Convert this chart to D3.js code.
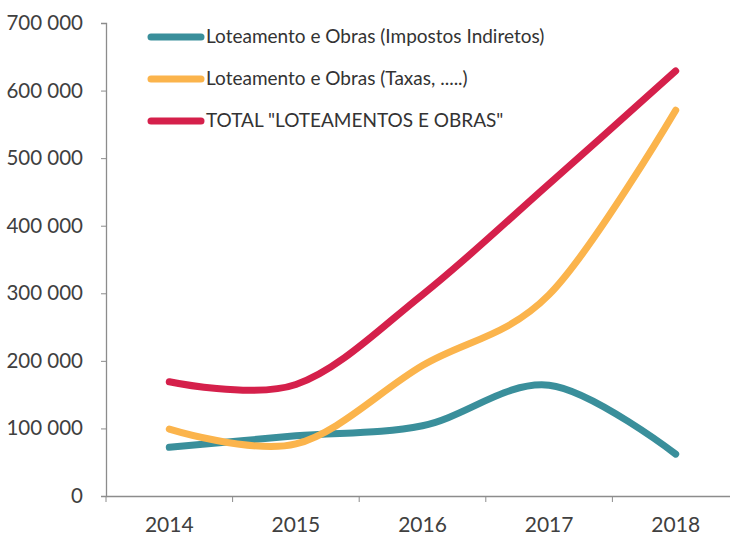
<!DOCTYPE html>
<html><head><meta charset="utf-8">
<script src="https://cdn.jsdelivr.net/npm/d3@7"></script>
<style>body{margin:0;background:#fff}svg{display:block}</style>
</head><body>
<svg id="c" width="730" height="538"></svg>
<script>
const years = ["2014","2015","2016","2017","2018"];
const seriesNames = ["Loteamento e Obras (Impostos Indiretos)","Loteamento e Obras (Taxas, .....)","TOTAL \"LOTEAMENTOS E OBRAS\""];
const impostos = [72000, 89000, 104000, 164000, 62000];
const taxas = [99000, 77000, 193000, 298000, 571000];
const total = [169000, 165000, 298000, 462000, 629000];
const yTicks = [0,100000,200000,300000,400000,500000,600000,700000];
const colors = ["#3a8f9b","#fbb44c","#d5204b"];

(function(){
const svg = d3.select("#c");
const font = "Lato, 'Open Sans', sans-serif";
const mLeft = 106, mBottom = 496, mTop = 23, band = 126.6;
const x = d3.scaleBand().domain(years).range([mLeft, mLeft + band*years.length]);
const y = d3.scaleLinear().domain([0,700000]).range([mBottom, mTop]);

// y axis
const ya = svg.append("g").attr("transform",`translate(${mLeft},0)`)
  .call(d3.axisLeft(y).tickValues(yTicks).tickSize(5).tickPadding(18)
    .tickFormat(d => d3.format(",")(d).replace(/,/g," ")));
ya.select(".domain").attr("stroke","#8c8c8c").attr("stroke-width",1.3);
ya.selectAll(".tick line").attr("stroke","#8c8c8c");
ya.selectAll("text").attr("font-family",font).attr("font-size",20.5).attr("fill","#404040");

// x axis
const xa = svg.append("g").attr("transform",`translate(0,${mBottom})`)
  .call(d3.axisBottom(x).tickSize(0).tickPadding(22));
xa.select(".domain").attr("stroke","#8c8c8c").attr("stroke-width",1.3);
xa.selectAll("text").attr("font-family",font).attr("font-size",21).attr("fill","#404040")
  .attr("dy",null).attr("y",36);
xa.selectAll(".bnd").data(years).enter().append("line")
  .attr("x1",d=>x(d)+band).attr("x2",d=>x(d)+band).attr("y1",0).attr("y2",6)
  .attr("stroke","#8c8c8c");
xa.append("line").attr("x1",mLeft).attr("x2",mLeft).attr("y1",0).attr("y2",6).attr("stroke","#8c8c8c");

const line = d3.line().x((d,i)=>x(years[i])+x.bandwidth()/2).y(d=>y(d)).curve(d3.curveCardinal.tension(0));
[impostos, taxas, total].forEach((s,k)=>{
  svg.append("path").datum(s).attr("d",line).attr("fill","none")
    .attr("stroke",colors[k]).attr("stroke-width",7).attr("stroke-linecap","round");
});

// legend
const lg = svg.append("g");
seriesNames.forEach((n,k)=>{
  const yy = 37 + k*42;
  lg.append("line").attr("x1",151).attr("x2",201).attr("y1",yy).attr("y2",yy)
    .attr("stroke",colors[k]).attr("stroke-width",7).attr("stroke-linecap","round");
  lg.append("text").attr("x",206).attr("y",yy+6).text(n)
    .attr("font-family",font).attr("font-size",19).attr("fill","#333");
});
})();
</script>
</body></html>
